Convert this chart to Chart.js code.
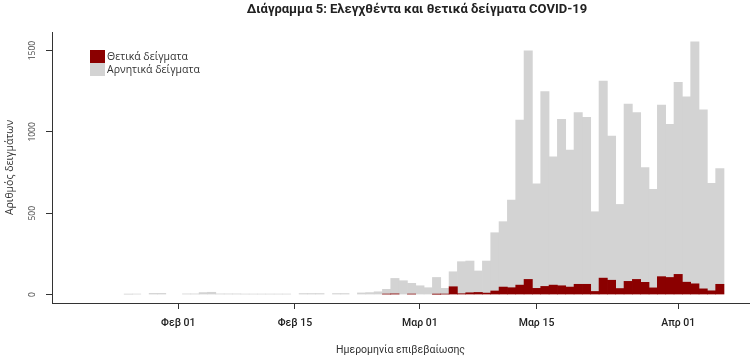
<!DOCTYPE html>
<html><head><meta charset="utf-8">
<script src="https://cdn.jsdelivr.net/npm/chart.js@4.4.1/dist/chart.umd.min.js"></script>
<style>
html,body{margin:0;padding:0;background:#fff;}
#wrap{position:relative;width:756px;height:357px;}
#legend{position:absolute;left:90px;top:50px;font-family:'Open Sans',sans-serif;font-size:10.5px;color:#333;line-height:13px;}
.item{display:flex;align-items:center;height:13px;white-space:nowrap;}
.sw{width:15px;height:13px;margin-right:2px;flex:none;}
</style></head><body>
<div id="wrap"><canvas id="c" width="756" height="357"></canvas><div id="legend"></div></div>
<script>
const chartTitle = "Διάγραμμα 5: Ελεγχθέντα και θετικά δείγματα COVID-19";
const yAxisTitle = "Αριθμός δειγμάτων";
const xAxisTitle = "Ημερομηνία επιβεβαίωσης";
const seriesNames = ["Θετικά δείγματα", "Αρνητικά δείγματα"];
const seriesColors = ["#8B0000", "#D3D3D3"];

const dates = [
"2020-01-20","2020-01-21","2020-01-22","2020-01-23","2020-01-24","2020-01-25","2020-01-26","2020-01-27","2020-01-28","2020-01-29","2020-01-30","2020-01-31",
"2020-02-01","2020-02-02","2020-02-03","2020-02-04","2020-02-05","2020-02-06","2020-02-07","2020-02-08","2020-02-09","2020-02-10",
"2020-02-11","2020-02-12","2020-02-13","2020-02-14","2020-02-15","2020-02-16","2020-02-17","2020-02-18","2020-02-19","2020-02-20",
"2020-02-21","2020-02-22","2020-02-23","2020-02-24","2020-02-25","2020-02-26","2020-02-27","2020-02-28","2020-02-29",
"2020-03-01","2020-03-02","2020-03-03","2020-03-04","2020-03-05","2020-03-06","2020-03-07","2020-03-08","2020-03-09","2020-03-10",
"2020-03-11","2020-03-12","2020-03-13","2020-03-14","2020-03-15","2020-03-16","2020-03-17","2020-03-18","2020-03-19","2020-03-20",
"2020-03-21","2020-03-22","2020-03-23","2020-03-24","2020-03-25","2020-03-26","2020-03-27","2020-03-28","2020-03-29","2020-03-30","2020-03-31",
"2020-04-01","2020-04-02","2020-04-03","2020-04-04","2020-04-05","2020-04-06"];

const positives = [
0,0,0,0,0,0,0,0,0,0,0,0,
0,0,0,0,0,0,0,0,0,0,
0,0,0,0,0,0,0,0,0,0,
0,0,0,0,0,3,4,0,3,
0,0,2,3,48,5,11,13,9,22,
46,42,58,93,38,50,58,54,46,63,
63,19,101,88,37,81,93,75,41,110,105,
124,76,66,35,23,63];

const negatives = [
0,0,0,0,0,0,2,3,0,7,7,0,
0,4,4,12,14,4,4,4,3,3,
3,3,3,3,0,6,6,6,0,6,
6,0,10,12,17,29,95,85,66,
54,42,103,35,92,197,195,132,197,358,
402,539,1015,1406,642,1197,789,1023,842,1055,
1026,490,1212,886,517,1090,1025,705,606,1055,941,
1180,1140,1488,1100,661,711];

const yTicks = [0, 500, 1000, 1500];
const xTickDates = ["2020-02-01","2020-02-15","2020-03-01","2020-03-15","2020-04-01"];
const xTickLabels = ["Φεβ 01","Φεβ 15","Μαρ 01","Μαρ 15","Απρ 01"];

const base = Date.parse(xTickDates[0]);
const dayOf = s => Math.round((Date.parse(s) - base) / 86400000);
const xs = dates.map(dayOf);

// legend (HTML)
const lg = document.getElementById('legend');
seriesNames.forEach((n, i) => {
  const it = document.createElement('div'); it.className = 'item';
  const sw = document.createElement('span'); sw.className = 'sw'; sw.style.background = seriesColors[i];
  const tx = document.createElement('span'); tx.textContent = n;
  it.appendChild(sw); it.appendChild(tx); lg.appendChild(it);
});

const titlePlugin = {
  id: 'customTitle',
  afterDraw(chart) {
    const ctx = chart.ctx;
    ctx.save();
    ctx.font = 'bold 13px Roboto';
    ctx.fillStyle = '#222';
    ctx.textAlign = 'center';
    ctx.textBaseline = 'middle';
    ctx.fillText(chartTitle, 417, 10);
    ctx.restore();
  }
};

const mk = (arr) => xs.map((x, i) => ({ x: x, y: arr[i] === 0 ? null : arr[i] }));

new Chart(document.getElementById('c'), {
  type: 'bar',
  data: {
    datasets: [
      { label: seriesNames[0], data: mk(positives), backgroundColor: seriesColors[0], borderWidth: 0, barPercentage: 1, categoryPercentage: 1 },
      { label: seriesNames[1], data: mk(negatives), backgroundColor: seriesColors[1], borderWidth: 0, barPercentage: 1, categoryPercentage: 1 }
    ]
  },
  options: {
    responsive: false,
    animation: false,
    layout: { padding: { left: 0, right: 7, top: 32, bottom: 0 } },
    plugins: { legend: { display: false }, tooltip: { enabled: false }, title: { display: false } },
    scales: {
      x: {
        type: 'linear', stacked: true, min: -15.16, max: 68.5, offset: false,
        grid: { display: true, drawOnChartArea: false, drawTicks: true, tickLength: 6, color: '#333', offset: false },
        border: { display: true, color: '#333', width: 1 },
        afterBuildTicks: s => { s.ticks = xTickDates.map(d => ({ value: dayOf(d) })); },
        ticks: { autoSkip: false, maxRotation: 0, minRotation: 0, padding: 8, color: '#222',
                 font: { family: 'Roboto', size: 10.5, weight: '500' },
                 callback: (v, i) => xTickLabels[i] },
        title: { display: true, text: xAxisTitle, color: '#333', font: { family: 'Roboto', size: 10.5 }, padding: { top: 0, bottom: 0 } },
        afterFit: s => { s.height = 54; }
      },
      y: {
        type: 'linear', stacked: true, min: -52, max: 1614,
        afterBuildTicks: s => { s.ticks = yTicks.map(v => ({ value: v })); },
        grid: { drawOnChartArea: false, drawTicks: true, tickLength: 6, color: '#333' },
        border: { display: true, color: '#333', width: 1 },
        ticks: { minRotation: 90, maxRotation: 90, crossAlign: 'center', padding: 4, color: '#444',
                 font: { family: 'Open Sans', size: 8.5 }, callback: v => String(v) },
        title: { display: true, text: yAxisTitle, color: '#333', font: { family: 'Open Sans', size: 10.5 }, padding: { top: 4, bottom: 0 } },
        afterFit: s => { s.width = 52; }
      }
    }
  },
  plugins: [titlePlugin]
});
</script>
</body></html>
